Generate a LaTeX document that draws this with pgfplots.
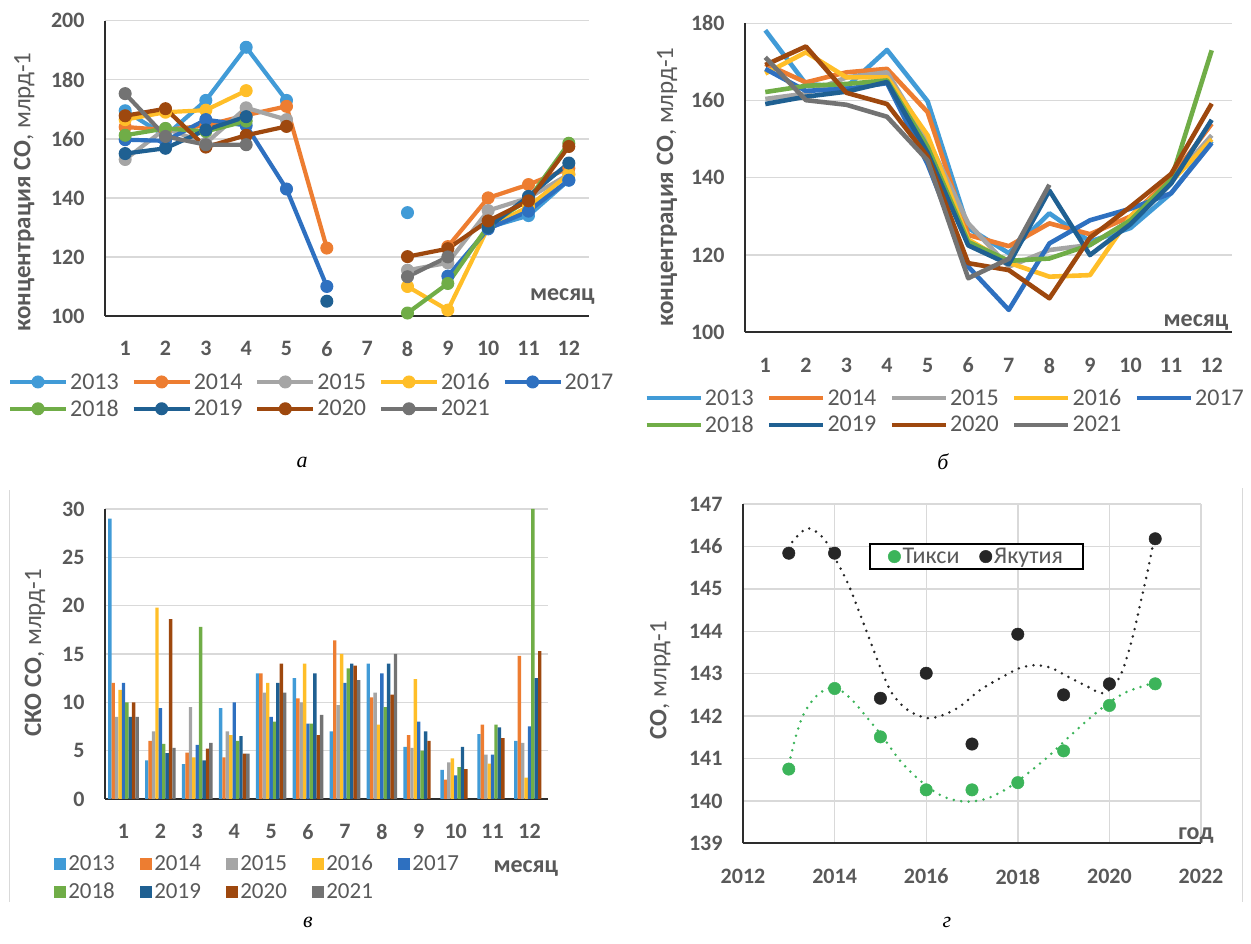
\documentclass[border=0pt]{standalone}
\usepackage{fontspec}
\setmainfont{Carlito}
\newfontfamily\capfont{Liberation Serif}
\usepackage{pgfplots}
\pgfplotsset{compat=1.18}

\definecolor{c13}{RGB}{65,155,215}
\definecolor{c14}{RGB}{237,125,49}
\definecolor{c15}{RGB}{165,165,165}
\definecolor{c16}{RGB}{255,190,40}
\definecolor{c17}{RGB}{46,112,192}
\definecolor{c18}{RGB}{112,173,71}
\definecolor{c19}{RGB}{31,96,146}
\definecolor{c20}{RGB}{158,72,14}
\definecolor{c21}{RGB}{115,115,115}
\definecolor{tickc}{RGB}{89,89,89}
\definecolor{gridc}{RGB}{217,217,217}
\definecolor{axc}{RGB}{45,45,45}
\definecolor{tiksi}{RGB}{60,180,90}
\definecolor{yak}{RGB}{38,38,38}

\newcommand\tickfont{\fontsize{22}{26}\selectfont\bfseries}
\newcommand\legfont{\fontsize{24}{28}\selectfont}
\newcommand\labfont{\fontsize{25}{29}\selectfont}
\newcommand\capf{\capfont\itshape\fontsize{22}{26}\selectfont}

\pgfplotsset{
  panel/.style={
    scale only axis,
    axis x line*=bottom, axis y line*=left,
    axis line style={color=axc, line width=1.6pt},
    major tick length=0pt,
    ymajorgrids, grid style={color=gridc, line width=1.4pt},
    ticklabel style={font=\tickfont, text=tickc},
    /pgf/number format/assume math mode=true,
    /pgf/number format/1000 sep={},
    xticklabel style={yshift=-22pt},
    yticklabel style={xshift=-17pt},
    ylabel style={font=\labfont, text=tickc, anchor=center},
    clip=false,
    unbounded coords=jump,
    legend cell align=left,
  },
  linemk/.style={color=#1, line width=4.2pt, mark=*, mark size=6pt, mark options={solid, line width=1pt}},
  lineonly/.style={color=#1, line width=4.6pt, line join=round},
  barst/.style={fill=#1, draw=none},
}

\begin{document}
\begin{tikzpicture}[x=1pt,y=1pt]
\useasboundingbox (0pt,0pt) rectangle (1251pt,944pt);

% ---------------- panel a ----------------
\begin{axis}[panel, at={(105pt,628pt)}, anchor=south west,
  width=484pt, height=295.3pt,
  xmin=0.5, xmax=12.5, ymin=100, ymax=200,
  xtick={1,...,12}, ytick={100,120,...,200},
  ylabel={{\bfseries концентрация СО}, млрд-1},
  ylabel style={at={(axis description cs:-0.167,0.42)}},
  legend columns=5,
  legend style={at={(axis description cs:-0.201,-0.186)}, anchor=north west,
    draw=none, fill=none, font=\legfont, text=tickc, inner sep=0pt,
    row sep=5pt, /tikz/every even column/.append style={column sep=10.8pt}},
  legend image code/.code={\draw[mark repeat=2,mark phase=2,#1] plot coordinates {(0pt,0pt)(28pt,0pt)(56pt,0pt)};},
]
\addplot[linemk=c13] coordinates {(1,169.5)(2,161)(3,173)(4,191)(5,173)(6,nan)(7,nan)(8,135)(9,nan)(10,130)(11,134)(12,146)};
\addplot[linemk=c14] coordinates {(1,164)(2,163)(3,164.5)(4,168)(5,171)(6,123)(7,nan)(8,nan)(9,123.5)(10,140)(11,144.5)(12,150)};
\addplot[linemk=c15] coordinates {(1,153)(2,163.5)(3,158.5)(4,170.5)(5,166.5)(6,nan)(7,nan)(8,115.5)(9,118)(10,135.7)(11,140)(12,148)};
\addplot[linemk=c16] coordinates {(1,166.5)(2,169)(3,169.7)(4,176.3)(5,nan)(6,nan)(7,nan)(8,110)(9,102)(10,130)(11,137)(12,148)};
\addplot[linemk=c17] coordinates {(1,159.7)(2,159.3)(3,166.5)(4,164.5)(5,143)(6,110)(7,nan)(8,nan)(9,113.5)(10,129.5)(11,135.5)(12,146)};
\addplot[linemk=c18] coordinates {(1,161.2)(2,163.5)(3,162.5)(4,166)(5,nan)(6,nan)(7,nan)(8,101)(9,111)(10,130.5)(11,139.5)(12,158.5)};
\addplot[linemk=c19] coordinates {(1,155)(2,156.8)(3,163)(4,167.5)(5,nan)(6,105)(7,nan)(8,nan)(9,nan)(10,130)(11,140.5)(12,151.8)};
\addplot[linemk=c20] coordinates {(1,167.8)(2,170.2)(3,157.2)(4,161.2)(5,164.2)(6,nan)(7,nan)(8,120.1)(9,122.8)(10,132.2)(11,139)(12,157.4)};
\addplot[linemk=c21] coordinates {(1,175.3)(2,160.8)(3,158)(4,158)(5,nan)(6,nan)(7,nan)(8,113.3)(9,120)};
\legend{2013,2014,2015,2016,2017,2018,2019,2020,2021}
\node[font=\fontsize{24}{28}\selectfont\bfseries, text=tickc] at (axis description cs:0.945,0.065) {месяц};
\end{axis}

% ---------------- panel b ----------------
\begin{axis}[panel, at={(745pt,611.7pt)}, anchor=south west,
  width=487pt, height=309pt,
  xmin=0.5, xmax=12.5, ymin=100, ymax=180,
  xtick={1,...,12}, ytick={100,120,...,180},
  ylabel={{\bfseries концентрация СО}, млрд-1},
  ylabel style={at={(axis description cs:-0.16,0.47)}},
  legend columns=5,
  legend style={at={(axis description cs:-0.207,-0.177)}, anchor=north west,
    draw=none, fill=none, font=\legfont, text=tickc, inner sep=0pt,
    row sep=5pt, /tikz/every even column/.append style={column sep=11.3pt}},
  legend image code/.code={\draw[#1] (0pt,0pt) -- (54pt,0pt);},
]
\addplot[lineonly=c13] coordinates {(1,178.2)(2,164.3)(3,163.5)(4,173.1)(5,159.8)(6,127)(7,120.5)(8,130.8)(9,123.5)(10,127)(11,136)(12,149.5)};
\addplot[lineonly=c14] coordinates {(1,169.5)(2,164.7)(3,167.3)(4,168.2)(5,157)(6,125.2)(7,122.3)(8,128.2)(9,125.4)(10,130)(11,140)(12,154)};
\addplot[lineonly=c15] coordinates {(1,160.4)(2,161.8)(3,166)(4,167.3)(5,150)(6,128.2)(7,117)(8,121.3)(9,122.6)(10,129)(11,139)(12,151)};
\addplot[lineonly=c16] coordinates {(1,167)(2,172.5)(3,166)(4,166)(5,151)(6,124)(7,118)(8,114.4)(9,114.8)(10,130)(11,139)(12,150)};
\addplot[lineonly=c17] coordinates {(1,168.2)(2,162.5)(3,163)(4,164.5)(5,143.5)(6,117)(7,105.8)(8,123)(9,129)(10,132)(11,136)(12,149)};
\addplot[lineonly=c18] coordinates {(1,162.2)(2,163.8)(3,164.3)(4,165.2)(5,148)(6,123.4)(7,118.5)(8,119.1)(9,122.6)(10,129)(11,139.5)(12,173)};
\addplot[lineonly=c19] coordinates {(1,159.1)(2,161)(3,162.3)(4,164.8)(5,146.5)(6,122.5)(7,117.6)(8,136.7)(9,120)(10,128)(11,138.5)(12,155)};
\addplot[lineonly=c20] coordinates {(1,169.2)(2,174)(3,162)(4,159.1)(5,145.5)(6,117.9)(7,116.1)(8,108.8)(9,124.5)(10,132.5)(11,141)(12,159.2)};
\addplot[lineonly=c21] coordinates {(1,171.2)(2,160.1)(3,158.9)(4,155.8)(5,144.5)(6,114)(7,119)(8,138.2)};
\legend{2013,2014,2015,2016,2017,2018,2019,2020,2021}
\node[font=\fontsize{24}{28}\selectfont\bfseries, text=tickc] at (axis description cs:0.926,0.033) {месяц};
\end{axis}

% ---------------- panel c ----------------
\begin{axis}[panel, at={(105pt,145pt)}, anchor=south west,
  width=443pt, height=290pt,
  xmin=0.5, xmax=12.5, ymin=0, ymax=30,
  xtick={1,...,12}, ytick={0,5,...,30},
  ybar=0pt, bar width=3.4pt,
  ylabel={{\bfseries СКО СО}, млрд-1},
  ylabel style={at={(axis description cs:-0.158,0.503)}},
  legend columns=5,
  legend style={at={(axis description cs:-0.115,-0.186)}, anchor=north west,
    draw=none, fill=none, font=\fontsize{23}{27}\selectfont, text=tickc, inner sep=0pt,
    row sep=7pt, /tikz/every even column/.append style={column sep=23.4pt}},
  legend image code/.code={\fill[#1] (0pt,-6pt) rectangle (12pt,6pt);},
]
\addplot[barst=c13] coordinates {(1,29)(2,4)(3,3.6)(4,9.4)(5,13)(6,12.5)(7,7)(8,14)(9,5.4)(10,3)(11,6.7)(12,6)};
\addplot[barst=c14] coordinates {(1,12)(2,6)(3,4.8)(4,4.3)(5,13)(6,10.4)(7,16.4)(8,10.5)(9,6.6)(10,2)(11,7.7)(12,14.8)};
\addplot[barst=c15] coordinates {(1,8.5)(2,7)(3,9.5)(4,7)(5,11)(6,10)(7,9.7)(8,11)(9,5.3)(10,3.8)(11,4.6)(12,5.8)};
\addplot[barst=c16] coordinates {(1,11.3)(2,19.8)(3,4.3)(4,6.6)(5,12)(6,14)(7,15)(8,7.7)(9,12.4)(10,4.2)(11,3.65)(12,2.2)};
\addplot[barst=c17] coordinates {(1,12)(2,9.4)(3,5.6)(4,10)(5,8.5)(6,7.8)(7,12)(8,13)(9,8)(10,2.45)(11,4.6)(12,7.5)};
\addplot[barst=c18] coordinates {(1,10)(2,5.7)(3,17.8)(4,6)(5,8)(6,7.8)(7,13.5)(8,9.5)(9,5)(10,3.3)(11,7.7)(12,30)};
\addplot[barst=c19] coordinates {(1,8.5)(2,4.75)(3,4)(4,6.5)(5,12)(6,13)(7,14)(8,14)(9,7)(10,5.4)(11,7.4)(12,12.5)};
\addplot[barst=c20] coordinates {(1,10)(2,18.6)(3,5.2)(4,4.7)(5,14)(6,6.6)(7,13.8)(8,10.8)(9,6)(10,3.1)(11,6.3)(12,15.3)};
\addplot[barst=c21] coordinates {(1,8.5)(2,5.3)(3,5.8)(4,4.7)(5,11)(6,8.7)(7,12.3)(8,15)};
\legend{2013,2014,2015,2016,2017,2018,2019,2020,2021}
\node[font=\fontsize{24}{28}\selectfont\bfseries, text=tickc] at (axis description cs:0.95,-0.24) {месяц};
\end{axis}

% ---------------- panel d (x = year - 2012) ----------------
\begin{axis}[panel, at={(743pt,100.7pt)}, anchor=south west,
  width=458pt, height=339.3pt,
  xmin=0, xmax=10, ymin=139, ymax=147,
  xtick={0,2,...,10}, xticklabels={2012,2014,2016,2018,2020,2022},
  ytick={139,140,...,147},
  xmajorgrids,
  ylabel={{\bfseries СО}, млрд-1},
  ylabel style={at={(axis description cs:-0.181,0.48)}},
  legend columns=2,
  legend style={at={(axis description cs:0.51,0.845)}, anchor=center,
    draw=black, line width=2pt, fill=white, font=\legfont, text=tickc,
    inner xsep=18pt, inner ysep=2pt,
    /tikz/every even column/.append style={column sep=18pt}},
  legend image code/.code={\draw[mark repeat=2,mark phase=2,#1] plot coordinates {(0pt,0pt)(6.5pt,0pt)(13pt,0pt)};},
]
\addplot[forget plot, smooth, color=yak, line width=2.8pt, line cap=round, dash pattern=on 0pt off 7.5pt]
 coordinates {(1.0,145.95)(1.07,146.1)(1.41,146.43)(1.76,146.19)(2.03,145.68)(2.29,145.13)(2.55,144.42)(2.77,143.79)(2.99,143.17)(3.25,142.54)(3.6,142.14)(4.03,141.95)(4.38,142.03)(4.73,142.22)(5.17,142.61)(5.61,142.89)(6.04,143.13)(6.39,143.2)(6.74,143.13)(7.09,142.93)(7.53,142.69)(7.88,142.54)(8.23,142.93)(8.49,143.79)(8.66,144.58)(8.84,145.44)(8.97,146.15)};
\addplot[forget plot, smooth, color=tiksi, line width=2.8pt, line cap=round, dash pattern=on 0pt off 7.5pt]
 coordinates {(1.0,140.85)(1.15,141.51)(1.33,142.06)(1.59,142.46)(1.85,142.65)(2.07,142.65)(2.38,142.38)(2.72,141.95)(3.07,141.48)(3.42,140.96)(3.77,140.57)(4.12,140.26)(4.47,140.06)(4.91,139.98)(5.34,140.06)(5.78,140.3)(6.22,140.65)(6.66,141.04)(7.09,141.48)(7.53,141.91)(7.97,142.3)(8.4,142.58)(8.93,142.77)};
\addplot[only marks, mark=*, mark size=6.2pt, color=tiksi, mark options={line width=0.5pt}]
 coordinates {(1,140.75)(2,142.65)(3,141.51)(4,140.26)(5,140.26)(6,140.43)(7,141.18)(8,142.25)(9,142.76)};
\addplot[only marks, mark=*, mark size=6.2pt, color=yak, mark options={line width=0.5pt}]
 coordinates {(1,145.84)(2,145.84)(3,142.42)(4,143.01)(5,141.34)(6,143.93)(7,142.5)(8,142.76)(9,146.18)};
\legend{Тикси,Якутия}
\node[font=\fontsize{24}{28}\selectfont\bfseries, text=tickc] at (axis description cs:0.989,0.024) {год};
\end{axis}

% chart-area borders
\draw[color=gridc, line width=1pt] (9pt,42pt) -- (9pt,454pt);
\draw[color=gridc, line width=1pt] (1242pt,42pt) -- (1242pt,456pt);

% captions
\node[font=\capf] at (302pt,482pt) {а};
\node[font=\capf] at (943pt,482pt) {б};
\node[font=\capf] at (308pt,22pt) {в};
\node[font=\capf] at (947pt,22pt) {г};
\end{tikzpicture}
\end{document}
